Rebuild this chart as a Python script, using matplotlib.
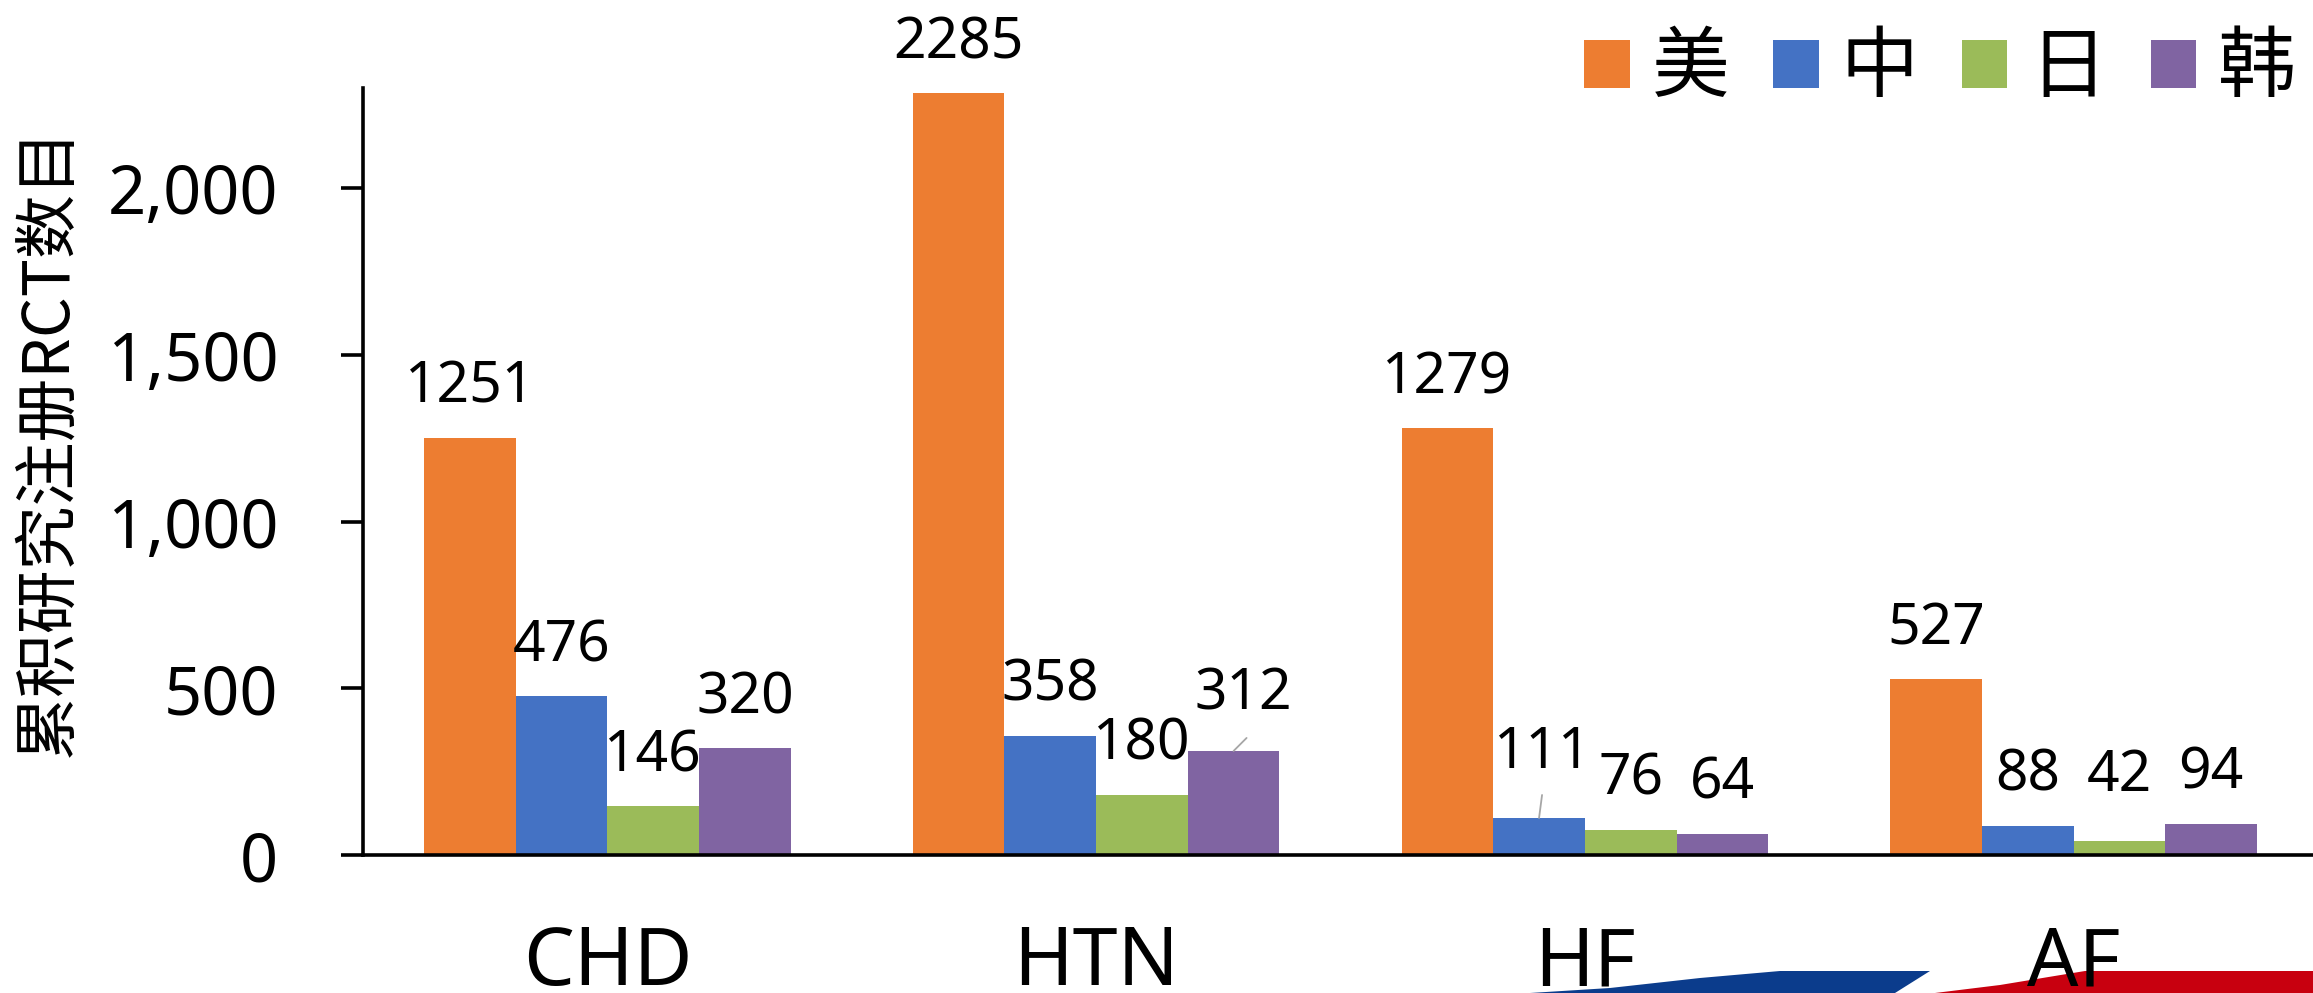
import matplotlib
matplotlib.use("Agg")
import matplotlib.pyplot as plt
from matplotlib.patches import Patch, Polygon
from matplotlib.ticker import FuncFormatter
import numpy as np

plt.rcParams['font.family'] = ['Noto Sans', 'Noto Sans CJK SC', 'DejaVu Sans']

# ---- data ----
categories = ['CHD', 'HTN', 'HF', 'AF']
series_names = ['美', '中', '日', '韩']
usa = [1251, 2285, 1279, 527]
china = [476, 358, 111, 88]
japan = [146, 180, 76, 42]
korea = [320, 312, 64, 94]
y_ticks = [0, 500, 1000, 1500, 2000]

series_values = [usa, china, japan, korea]
colors = ['#ED7D31', '#4472C4', '#9BBB59', '#8064A2']

W, H = 2313, 993
fig = plt.figure(figsize=(W / 100, H / 100), dpi=100)

def fx(px):
    return px / W

def fy(py):
    return 1 - py / H

ax = fig.add_axes([fx(363), fy(855), fx(2318) - fx(363), fy(88) - fy(855)])

n = len(series_values)
bw = 0.1875
x = np.arange(len(categories))
px2pt = 0.72

# special label offsets (px): (series index, category index) -> (dx, extra dy, leader)
special = {(3, 1): (10, 6, (13, 13)), (1, 2): (4, 15, (3, 23)), (2, 3): (0, 15, None)}

for i, (vals, col) in enumerate(zip(series_values, colors)):
    pos = x + (i - (n - 1) / 2) * bw
    ax.bar(pos, vals, width=bw, color=col, edgecolor='none', zorder=2)
    for j, (p, v) in enumerate(zip(pos, vals)):
        dx, ddy, leader = special.get((i, j), (0, 0, None))
        ax.annotate(str(v), xy=(p, v), xytext=(dx * px2pt, (35 + ddy) * px2pt),
                    textcoords='offset points', ha='center', va='baseline',
                    fontsize=41, color='black')
        if leader is not None:
            ax.annotate('', xy=(p, v), xytext=(leader[0] * px2pt, leader[1] * px2pt),
                        textcoords='offset points',
                        arrowprops=dict(arrowstyle='-', color='#a6a6a6', lw=1.3,
                                        shrinkA=0, shrinkB=0))

ax.set_xlim(-0.5, 3.5)
ax.set_ylim(0, 2300)
ax.set_yticks(y_ticks)
ax.yaxis.set_major_formatter(FuncFormatter(lambda v, _: f'{int(v):,}'))
ax.set_xticks(x)
ax.set_xticklabels(categories)

for s in ['top', 'right']:
    ax.spines[s].set_visible(False)
for s in ['left', 'bottom']:
    ax.spines[s].set_linewidth(2.6)
    ax.spines[s].set_color('black')

ax.tick_params(axis='y', length=16, width=2.6, pad=45, labelsize=48, direction='out')
ax.tick_params(axis='x', length=0, pad=50, labelsize=58)

fig.text(fx(48), fy(442), '累积研究注册RCT数目', rotation=90, fontsize=46,
         family=['Noto Sans CJK SC', 'DejaVu Sans'], ha='center', va='center')

handles = [Patch(facecolor=c, edgecolor='none') for c in colors]
fig.legend(handles, series_names, ncol=4, loc='center right',
           bbox_to_anchor=(fx(2296), fy(69.5)), frameon=False,
           prop={'family': ['Noto Sans CJK SC'], 'size': 56},
           handlelength=0.58, handleheight=0.58, handletextpad=0.28,
           columnspacing=0.57, borderpad=0, borderaxespad=0)

# decorative template band at bottom right (behind text)
blue_pts = [(1530, 993), (1610, 988), (1700, 978), (1780, 971), (1930, 971), (1895, 993)]
red_pts = [(1935, 993), (2000, 985), (2085, 971), (2313, 971), (2313, 993)]
fig.patches.append(Polygon([(fx(a), fy(b)) for a, b in blue_pts], closed=True,
                           transform=fig.transFigure, facecolor='#0B3C8C',
                           edgecolor='none', zorder=-5))
fig.patches.append(Polygon([(fx(a), fy(b)) for a, b in red_pts], closed=True,
                           transform=fig.transFigure, facecolor='#C8000F',
                           edgecolor='none', zorder=-5))

fig.savefig('out.png', dpi=100)
